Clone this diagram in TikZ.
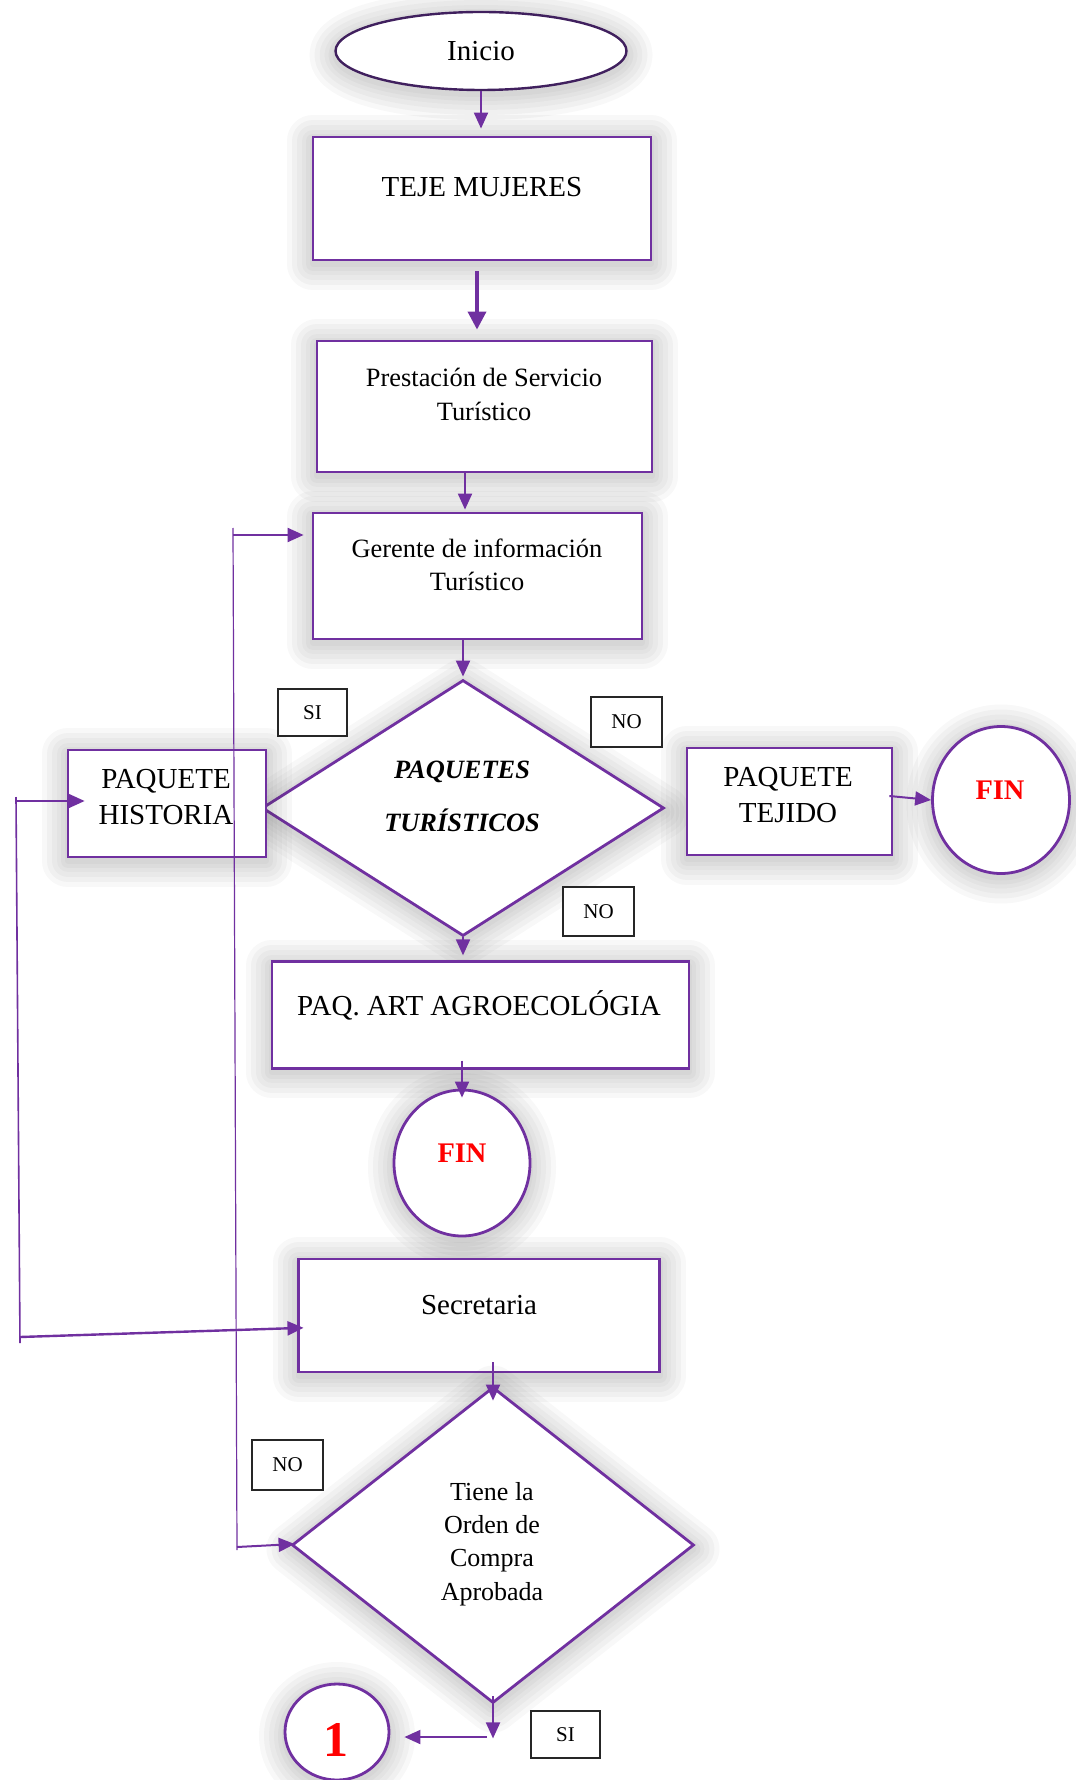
\documentclass[tikz,border=0pt]{standalone}
\usepackage{fontspec}
\setmainfont{Liberation Serif}
\usetikzlibrary{shapes.geometric,arrows.meta,calc}
\definecolor{pur}{HTML}{7030A0}
\definecolor{dpur}{HTML}{40205E}
\definecolor{fred}{HTML}{FF0000}
\definecolor{shd}{HTML}{404040}
\begin{document}
\begin{tikzpicture}[x=0.5pt,y=-0.5pt,
  gl/.style={preaction={draw=shd,draw opacity=.04,line width=#1,line join=round,transform canvas={yshift=-2pt}}},
  glow/.style={gl=26pt,gl=21pt,gl=16pt,gl=11pt,gl=7pt,gl=3pt},
  rbox/.style={glow,draw=pur,line width=1.4pt,fill=white,rectangle,inner sep=0pt},
  oval/.style={glow,draw=dpur,line width=1.2pt,fill=white,ellipse,inner sep=0pt},
  circ/.style={glow,draw=pur,line width=1.4pt,fill=white,ellipse,inner sep=0pt},
  dia/.style={glow,draw=pur,line width=1.4pt,fill=white,diamond,inner sep=0pt},
  lab/.style={draw=black!85,line width=0.6pt,fill=white,rectangle,inner sep=0pt,font=\fontsize{10.5}{12}\selectfont},
  big/.style={align=center,inner sep=0pt,font=\fontsize{14.5}{18}\selectfont},
  med/.style={align=center,inner sep=0pt,font=\fontsize{13.2}{16.8}\selectfont},
  fintxt/.style={inner sep=0pt,text=fred,font=\bfseries\fontsize{14.2}{16}\selectfont},
  arr/.style={draw=pur,line width=1pt,-{Triangle[length=8pt,width=7pt]}},
  bigarr/.style={draw=pur,line width=1.8pt,-{Triangle[length=9pt,width=9pt]}},
  thinl/.style={draw=pur,line width=0.6pt},
  midl/.style={draw=pur,line width=0.8pt}]
\useasboundingbox (0,0) rectangle (1075,1780);

% shapes
\node[oval,minimum width=145.5pt,minimum height=39pt] (inicio) at (481,51) {};
\node[big] (inicioT) at (481,51) {Inicio};
\node[rbox,minimum width=169pt,minimum height=61.5pt] (teje) at (482,198.5) {};
\node[big] (tejeT) at (482,187) {TEJE MUJERES};
\node[rbox,minimum width=167.5pt,minimum height=65.5pt] (prest) at (484.5,406.5) {};
\node[med] (prestT) at (484,394.5) {Prestación de Servicio\\Turístico};
\node[rbox,minimum width=164.5pt,minimum height=63pt] (ger) at (477.5,576) {};
\node[med] (gerT) at (477,565) {Gerente de información\\Turístico};
\node[dia,minimum width=201pt,minimum height=128pt] (d1) at (463,808) {};
\node[align=center,inner sep=0pt,font=\bfseries\itshape\fontsize{13.2}{26.5}\selectfont] (d1T) at (462,796.5) {PAQUETES\\TURÍSTICOS};
\node[rbox,minimum width=99pt,minimum height=53.5pt] (hist) at (167,803.5) {};
\node[rbox,minimum width=102.5pt,minimum height=53.5pt] (tejido) at (789.5,801.5) {};
\node[big] (tejidoT) at (788,795) {PAQUETE\\TEJIDO};
\node[circ,minimum width=68.5pt,minimum height=73.5pt] (fin1) at (1001,800) {};
\node[fintxt] (fin1T) at (1000,790) {FIN};
\node[rbox,minimum width=208.5pt,minimum height=53.25pt] (paqart) at (480.5,1015) {};
\node[big] (paqartT) at (479,1005) {PAQ. ART AGROECOLÓGIA};
\node[circ,minimum width=68pt,minimum height=73pt] (fin2) at (462,1163) {};
\node[fintxt] (fin2T) at (462,1153) {FIN};
\node[rbox,minimum width=180.5pt,minimum height=56.5pt] (sec) at (479,1315.5) {};
\node[big] (secT) at (479,1305) {Secretaria};
\node[dia,minimum width=201pt,minimum height=158pt] (d2) at (493,1545) {};
\node[align=center,inner sep=0pt,font=\fontsize{13}{16.7}\selectfont] (d2T) at (492,1544) {Tiene la\\Orden de\\Compra\\Aprobada};
\node[circ,minimum width=52pt,minimum height=48pt] (one) at (337,1732) {};
\node[inner sep=0pt,text=fred,font=\bfseries\fontsize{25}{28}\selectfont] (oneT) at (336,1739.5) {1};

% connectors
\draw[arr,shorten >=3.5pt] (inicio.south) -- (inicio.south |- teje.north);
\draw[bigarr,shorten <=5pt,shorten >=5pt] ($(teje.south)+(-5,0)$) -- ($(teje.south |- prest.north)+(-5,0)$);
\draw[arr,shorten >=1pt] ($(prest.south)+(-19.5,0)$) -- ($(prest.south |- ger.north)+(-19.5,0)$);
\draw[arr,shorten >=1pt] (ger.south -| d1.north) -- (d1.north);
\draw[arr,shorten >=2.5pt] (d1.south) -- (d1.south |- paqart.north);
\draw[arr] ($(paqart.south -| fin2.north)+(0,-9)$) -- ($(fin2.north)+(0,9)$);
\draw[arr] ($(tejido.east)+(-4,-5.5)$) -- (fin1.west);

% loop line to Gerente / Tiene la Orden
\coordinate (lpTop) at (233,528);
\coordinate (lpBot) at (237,1550);
\draw[thinl] (lpTop) -- (lpBot);
\coordinate (lpA) at (233,535);
\draw[arr,shorten >=4pt] (lpA) -- (lpA -| ger.west);
\coordinate (lpB) at (237,1547);
\draw[arr] (lpB) -- ($(d2.west)+(4,-1)$);

% left line to Paquete Historia / Secretaria
\coordinate (lfTop) at (16,797);
\coordinate (lfBot) at (20,1343);
\draw[midl] (lfTop) -- (lfBot);
\coordinate (lfA) at (16,801);
\draw[arr] (lfA) -- ($(lfA -| hist.west)+(18,0)$);
\coordinate (lfB) at (20,1337);
\draw[arr,line width=1.2pt] (lfB) -- ($(sec.west)+(6.4,12.3)$);

\draw[arr] ($(sec.south -| d2.north)+(0,-11)$) -- ($(d2.north)+(0,15)$);
\draw[arr] ($(d2.south)+(0,-8)$) -- ($(d2.south)+(0,34)$);
\coordinate (sB) at (487,1737);
\draw[arr] (sB) -- ($(sB -| one.east)+(14,0)$);

\node[big] (histT) at (166,797) {PAQUETE\\HISTORIA};

% labels
\node[lab,minimum width=34.5pt,minimum height=23.5pt] (si1) at (312.5,712.5) {SI};
\node[lab,minimum width=35.5pt,minimum height=25pt] (no1) at (626.5,722) {NO};
\node[lab,minimum width=35.5pt,minimum height=24.5pt] (no2) at (598.5,911.5) {NO};
\node[lab,minimum width=35.5pt,minimum height=25pt] (no3) at (287.5,1465) {NO};
\node[lab,minimum width=34.5pt,minimum height=23.5pt] (si2) at (565.5,1734.5) {SI};
\end{tikzpicture}
\end{document}
